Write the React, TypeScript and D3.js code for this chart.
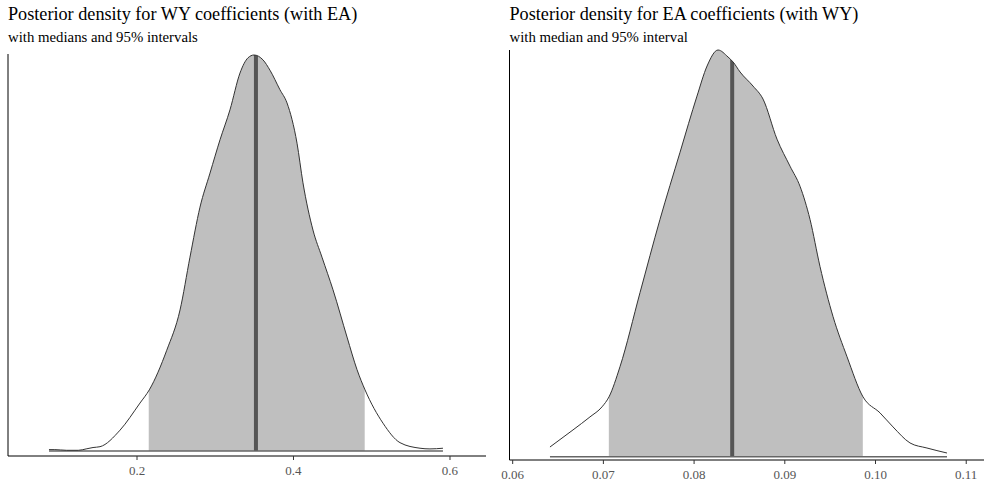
import React from "react";
import * as d3 from "d3";

// WY coefficient posterior (value, density)
const wyValues = [0.0875, 0.095, 0.11, 0.125, 0.135, 0.1438, 0.1527, 0.1783, 0.2038, 0.2157, 0.238, 0.255, 0.2677, 0.2805, 0.2933, 0.3061, 0.3188, 0.3316, 0.3419, 0.3495, 0.361, 0.37, 0.3827, 0.3917, 0.4045, 0.4121, 0.4249, 0.4364, 0.4505, 0.4684, 0.4812, 0.4914, 0.5144, 0.5361, 0.5617, 0.5744, 0.591];
const wyDensity = [0.02, 0.02, 0.01, 0.01, 0.03, 0.05, 0.062, 0.30, 0.69, 0.88, 1.45, 2.03, 2.79, 3.51, 4.0, 4.48, 4.91, 5.44, 5.66, 5.70, 5.63, 5.48, 5.2, 5.01, 4.43, 3.86, 3.18, 2.79, 2.32, 1.64, 1.17, 0.88, 0.40, 0.12, 0.04, 0.03, 0.04];
const wyMedian = 0.352;
const wyInterval = [0.215, 0.491];
const wyTicks = [0.2, 0.4, 0.6];
const wyDomain = [0.03514, 0.64601];

// EA coefficient posterior (value, density)
const eaValues = [0.06411, 0.06665, 0.06852, 0.06985, 0.07062, 0.07183, 0.07404, 0.07624, 0.07845, 0.08032, 0.08143, 0.08264, 0.08374, 0.0843, 0.08507, 0.0865, 0.0876, 0.08914, 0.09058, 0.09168, 0.09278, 0.09388, 0.09532, 0.09686, 0.09862, 0.1005, 0.10193, 0.1038, 0.10567, 0.10788];
const eaDensity = [1.26, 3.48, 5.17, 6.48, 7.78, 11.69, 21.33, 30.84, 39.57, 46.87, 50.78, 52.86, 51.95, 51.3, 50.0, 48.17, 46.48, 41.27, 37.75, 35.14, 30.84, 24.72, 18.2, 12.99, 7.78, 5.69, 3.87, 1.79, 1.13, 0.48];
const eaMedian = 0.0842;
const eaInterval = [0.0706, 0.0986];
const eaTicks = [0.06, 0.07, 0.08, 0.09, 0.1, 0.11];
const eaDomain = [0.05965, 0.11196];

type PanelProps = {
  id: string;
  title: string;
  subtitle: string;
  values: number[];
  density: number[];
  median: number;
  interval: number[];
  ticks: number[];
  domain: number[];
  left: number;
  right: number;
  top: number;
  axisY: number;
  baseY: number;
  peakY: number;
  fmt: (v: number) => string;
};

function Panel(p: PanelProps) {
  const x = d3.scaleLinear().domain(p.domain).range([p.left, p.right]);
  const maxD = d3.max(p.density) as number;
  const y = d3.scaleLinear().domain([0, maxD]).range([p.baseY, p.peakY]);
  const pts = p.values.map((v, i) => [v, p.density[i]] as [number, number]);
  const area = d3
    .area<[number, number]>()
    .x((d) => x(d[0]))
    .y0(p.baseY)
    .y1((d) => y(d[1]))
    .curve(d3.curveMonotoneX);
  const line = d3
    .line<[number, number]>()
    .x((d) => x(d[0]))
    .y((d) => y(d[1]))
    .curve(d3.curveMonotoneX);
  const areaPath = area(pts) || "";
  const x0 = x(p.values[0]);
  const x1 = x(p.values[p.values.length - 1]);
  const clipId = `clip-int-${p.id}`;
  const clipArea = `clip-area-${p.id}`;
  return (
    <g>
      <defs>
        <clipPath id={clipId}>
          <rect x={x(p.interval[0])} y={0} width={x(p.interval[1]) - x(p.interval[0])} height={486} />
        </clipPath>
        <clipPath id={clipArea}>
          <path d={areaPath} />
        </clipPath>
      </defs>
      <text x={p.left} y={20} fontFamily="'Liberation Serif', serif" fontSize={18.2} fill="#000">
        {p.title}
      </text>
      <text x={p.left} y={42} fontFamily="'Liberation Serif', serif" fontSize={14.8} fill="#000">
        {p.subtitle}
      </text>
      <path d={areaPath} fill="#bfbfbf" clipPath={`url(#${clipId})`} />
      <line
        x1={x(p.median)}
        x2={x(p.median)}
        y1={p.baseY}
        y2={p.peakY - 5}
        stroke="#555"
        strokeWidth={4}
        clipPath={`url(#${clipArea})`}
      />
      <line x1={x0} x2={x1} y1={p.baseY} y2={p.baseY} stroke="#666" strokeWidth={1.5} />
      <path d={line(pts) || ""} fill="none" stroke="#333" strokeWidth={1} />
      <line x1={p.left} x2={p.left} y1={p.top} y2={p.axisY} stroke="#000" strokeWidth={1} />
      <line x1={p.left} x2={p.right} y1={p.axisY} y2={p.axisY} stroke="#000" strokeWidth={1} />
      {p.ticks.map((t) => (
        <g key={t}>
          <line x1={x(t)} x2={x(t)} y1={p.axisY} y2={p.axisY + 4} stroke="#333" strokeWidth={1} />
          <text
            x={x(t)}
            y={p.axisY + 19}
            textAnchor="middle"
            fontFamily="'Liberation Serif', serif"
            fontSize={13}
            fill="#555"
          >
            {p.fmt(t)}
          </text>
        </g>
      ))}
    </g>
  );
}

export default function App() {
  return (
    <svg
      width={984}
      height={486}
      style={{ position: "absolute", left: 0, top: 0, background: "#fff" }}
    >
      <rect x={0} y={0} width={984} height={486} fill="#fff" />
      <Panel
        id="wy"
        title="Posterior density for WY coefficients (with EA)"
        subtitle="with medians and 95% intervals"
        values={wyValues}
        density={wyDensity}
        median={wyMedian}
        interval={wyInterval}
        ticks={wyTicks}
        domain={wyDomain}
        left={8}
        right={486}
        top={54}
        axisY={456}
        baseY={451}
        peakY={55}
        fmt={(v) => d3.format(".1f")(v)}
      />
      <Panel
        id="ea"
        title="Posterior density for EA coefficients (with WY)"
        subtitle="with median and 95% interval"
        values={eaValues}
        density={eaDensity}
        median={eaMedian}
        interval={eaInterval}
        ticks={eaTicks}
        domain={eaDomain}
        left={509.5}
        right={984}
        top={50}
        axisY={460}
        baseY={456.7}
        peakY={50}
        fmt={(v) => d3.format(".2f")(v)}
      />
    </svg>
  );
}
